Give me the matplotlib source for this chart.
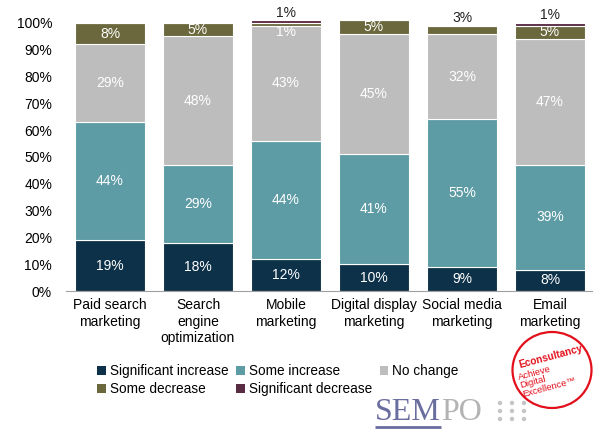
import numpy as np
import matplotlib.pyplot as plt
from matplotlib.patches import Circle, Ellipse

plt.rcParams['font.family'] = ['Liberation Sans', 'DejaVu Sans']

categories = ['Paid search\nmarketing', 'Search\nengine\noptimization', 'Mobile\nmarketing',
              'Digital display\nmarketing', 'Social media\nmarketing', 'Email\nmarketing']
series = ['Significant increase', 'Some increase', 'No change',
          'Some decrease', 'Significant decrease']

significant_increase = [19, 18, 12, 10, 9, 8]
some_increase = [44, 29, 44, 41, 55, 39]
no_change = [29, 48, 43, 45, 32, 47]
some_decrease = [8, 5, 1, 5, 3, 5]
significant_decrease = [0, 0, 1, 0, 0, 1]

colors = ['#0d3148', '#5d9ba5', '#bdbdbd', '#6a683c', '#5a2c43']

data = [significant_increase, some_increase, no_change, some_decrease, significant_decrease]

fig = plt.figure(figsize=(6, 4.38), dpi=100)
ax = fig.add_axes([0.11, 0.3356, 0.877, 0.612])

x = np.arange(len(categories))
bottom = np.zeros(len(categories))
handles = []
for i, (vals, col) in enumerate(zip(data, colors)):
    vals = np.array(vals, dtype=float)
    bars = ax.bar(x, vals, 0.795, bottom=bottom, color=col, edgecolor='white',
                  linewidth=0.8, clip_on=False, label=series[i])
    handles.append(bars)
    for j, v in enumerate(vals):
        if v == 0:
            continue
        mid = bottom[j] + v / 2
        top = bottom[j] + v
        if i < 3:
            ax.text(x[j], mid, f'{int(v)}%', ha='center', va='center',
                    color='white', fontsize=10)
        elif i == 3:
            if v >= 5:
                ax.text(x[j], mid, f'{int(v)}%', ha='center', va='center',
                        color='white', fontsize=10)
            elif significant_decrease[j] > 0:
                # label tucked inside the grey segment
                ax.text(x[j], bottom[j] - 2.5, f'{int(v)}%', ha='center', va='center',
                        color='white', fontsize=10)
            else:
                ax.text(x[j], top + 0.2, f'{int(v)}%', ha='center', va='bottom',
                        color='#222222', fontsize=10)
        else:
            ax.text(x[j], top + 0.2, f'{int(v)}%', ha='center', va='bottom',
                    color='#222222', fontsize=10)
    bottom += vals

ax.set_ylim(0, 100)
ax.set_xlim(-0.5, len(categories) - 0.52)
ax.set_yticks(np.arange(0, 101, 10))
ax.set_yticklabels([f'{t}%' for t in range(0, 101, 10)], fontsize=10)
ax.set_xticks(x)
ax.set_xticklabels(categories, fontsize=10, linespacing=1.25)
ax.tick_params(axis='x', length=0, pad=5)
ax.tick_params(axis='y', length=0, pad=10)
for s in ['top', 'right', 'left']:
    ax.spines[s].set_visible(False)
ax.spines['bottom'].set_color('#a0a0a0')

order = [0, 3, 1, 4, 2]
leg = fig.legend([handles[k] for k in order], [series[k] for k in order],
                 ncol=3, loc='upper left', bbox_to_anchor=(0.142, 0.196),
                 frameon=False, fontsize=9.8, handlelength=0.6, handleheight=0.6,
                 handletextpad=0.3, columnspacing=0.6, labelspacing=0.3)
for h in leg.legend_handles:
    h.set_edgecolor('none')

# logos, drawn on a pixel-coordinate overlay
lax = fig.add_axes([0, 0, 1, 1], zorder=-1)
lax.set_xlim(0, 600)
lax.set_ylim(438, 0)
lax.axis('off')

sem = lax.text(375, 420, 'SEM', fontsize=23, family='Liberation Serif',
               color='#6a6e9f', va='baseline', ha='left')
fig.canvas.draw()
bb = sem.get_window_extent().transformed(lax.transData.inverted())
sem_right = max(bb.x0, bb.x1)
lax.text(sem_right, 420, 'PO', fontsize=23, family='Liberation Serif',
         color='#b3b3b3', va='baseline', ha='left')
lax.plot([375, sem_right], [427, 427], color='#6a6e9f', lw=2, solid_capstyle='butt')
for dx in [500, 512, 524]:
    for dy in [403, 411, 419]:
        lax.add_patch(Circle((dx, dy), 2.2, color='#c4c4c4', lw=0))

lax.add_patch(Ellipse((552, 370), 79, 76, fill=False, edgecolor='#e3101c', lw=1.6))
lax.text(551, 357, 'Econsultancy', fontsize=7.3, weight='bold', color='#e3101c',
         rotation=15, ha='center', va='center', rotation_mode='anchor')
lax.text(547, 379, 'Achieve\nDigital\nExcellence™', fontsize=6.8, color='#e3101c',
         rotation=15, ha='center', va='center', rotation_mode='anchor',
         multialignment='left', linespacing=0.95)

fig.savefig('out.png', dpi=100)
